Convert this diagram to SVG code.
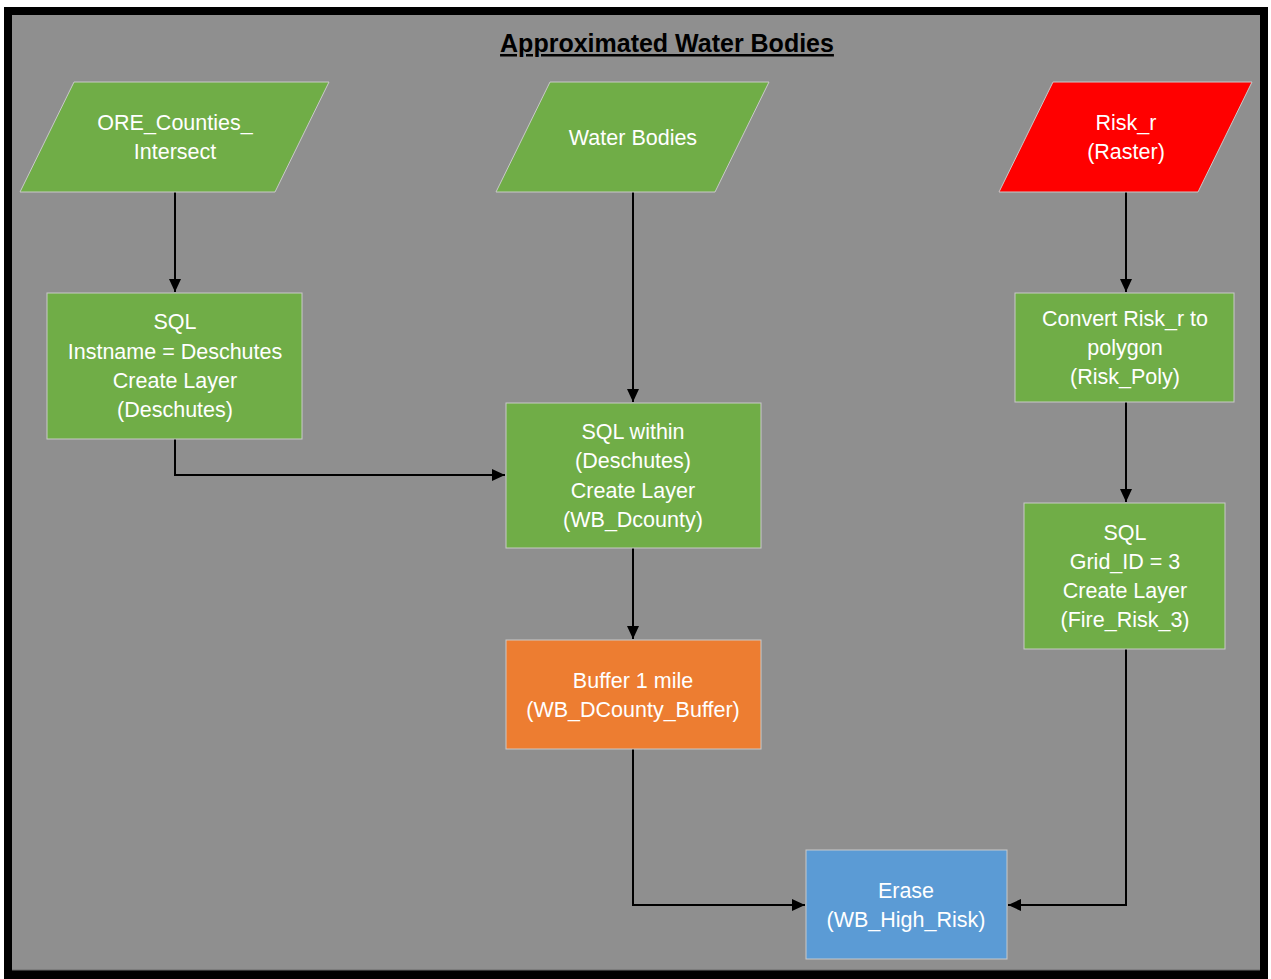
<svg xmlns="http://www.w3.org/2000/svg" width="1271" height="979" viewBox="0 0 1271 979">
<style>
.lbl{font-family:"Liberation Sans",Arial,sans-serif;font-size:21.5px;fill:#ffffff;text-anchor:middle}
.title{font-family:"Liberation Sans",Arial,sans-serif;font-size:25px;font-weight:bold;fill:#000;text-anchor:middle;text-decoration:underline}
.nd{stroke:#c9c9c9;stroke-width:1}
.g{fill:#70ad47}
.c{fill:none;stroke:#000;stroke-width:2}
</style>
<defs>
<marker id="ah" markerUnits="userSpaceOnUse" markerWidth="14" markerHeight="14" viewBox="0 0 14 14" refX="13" refY="7" orient="auto">
<path d="M0,1 L13,7 L0,13 Z" fill="#000"/>
</marker>
</defs>
<rect x="0" y="0" width="1271" height="979" fill="#ffffff"/>
<rect x="4" y="7" width="1264" height="972" fill="#000"/>
<rect x="12" y="15" width="1248" height="955" fill="#8f8f8f"/>
<line x1="12" y1="970" x2="1260" y2="970" stroke="#6b6b6b" stroke-width="1"/>
<text class="title" x="667" y="52">Approximated Water Bodies</text>

<g id="connectors">
<path class="c" d="M175,192 V292" marker-end="url(#ah)"/>
<path class="c" d="M633,192 V402" marker-end="url(#ah)"/>
<path class="c" d="M1126,192 V292" marker-end="url(#ah)"/>
<path class="c" d="M175,439 V475 H505" marker-end="url(#ah)"/>
<path class="c" d="M633,548 V639" marker-end="url(#ah)"/>
<path class="c" d="M1126,402 V502" marker-end="url(#ah)"/>
<path class="c" d="M633,749 V905 H805" marker-end="url(#ah)"/>
<path class="c" d="M1126,649 V905 H1008" marker-end="url(#ah)"/>
</g>

<g id="ore_counties">
<polygon class="nd g" points="74,82 329,82 275,192 20,192"/>
<text class="lbl" x="175" y="130">ORE_Counties_</text>
<text class="lbl" x="175" y="159">Intersect</text>
</g>
<g id="water_bodies">
<polygon class="nd g" points="550,82 769,82 715,192 496,192"/>
<text class="lbl" x="633" y="145">Water Bodies</text>
</g>
<g id="risk_r">
<polygon class="nd" fill="#ff0000" points="1053,82 1252,82 1198,192 999,192"/>
<text class="lbl" x="1126" y="130">Risk_r</text>
<text class="lbl" x="1126" y="159">(Raster)</text>
</g>
<g id="sql_deschutes">
<rect class="nd g" x="47" y="293" width="255" height="146"/>
<text class="lbl" x="175" y="329">SQL</text>
<text class="lbl" x="175" y="359">Instname = Deschutes</text>
<text class="lbl" x="175" y="388">Create Layer</text>
<text class="lbl" x="175" y="417">(Deschutes)</text>
</g>
<g id="sql_within">
<rect class="nd g" x="506" y="403" width="255" height="145"/>
<text class="lbl" x="633" y="439">SQL within</text>
<text class="lbl" x="633" y="468">(Deschutes)</text>
<text class="lbl" x="633" y="498">Create Layer</text>
<text class="lbl" x="633" y="527">(WB_Dcounty)</text>
</g>
<g id="buffer">
<rect class="nd" fill="#ed7d31" x="506" y="640" width="255" height="109"/>
<text class="lbl" x="633" y="688">Buffer 1 mile</text>
<text class="lbl" x="633" y="717">(WB_DCounty_Buffer)</text>
</g>
<g id="convert">
<rect class="nd g" x="1015" y="293" width="219" height="109"/>
<text class="lbl" x="1125" y="326">Convert Risk_r to</text>
<text class="lbl" x="1125" y="355">polygon</text>
<text class="lbl" x="1125" y="384">(Risk_Poly)</text>
</g>
<g id="sql_grid">
<rect class="nd g" x="1024" y="503" width="201" height="146"/>
<text class="lbl" x="1125" y="540">SQL</text>
<text class="lbl" x="1125" y="569">Grid_ID = 3</text>
<text class="lbl" x="1125" y="598">Create Layer</text>
<text class="lbl" x="1125" y="627">(Fire_Risk_3)</text>
</g>
<g id="erase">
<rect class="nd" fill="#5b9bd5" x="806" y="850" width="201" height="109"/>
<text class="lbl" x="906" y="898">Erase</text>
<text class="lbl" x="906" y="927">(WB_High_Risk)</text>
</g>
</svg>
